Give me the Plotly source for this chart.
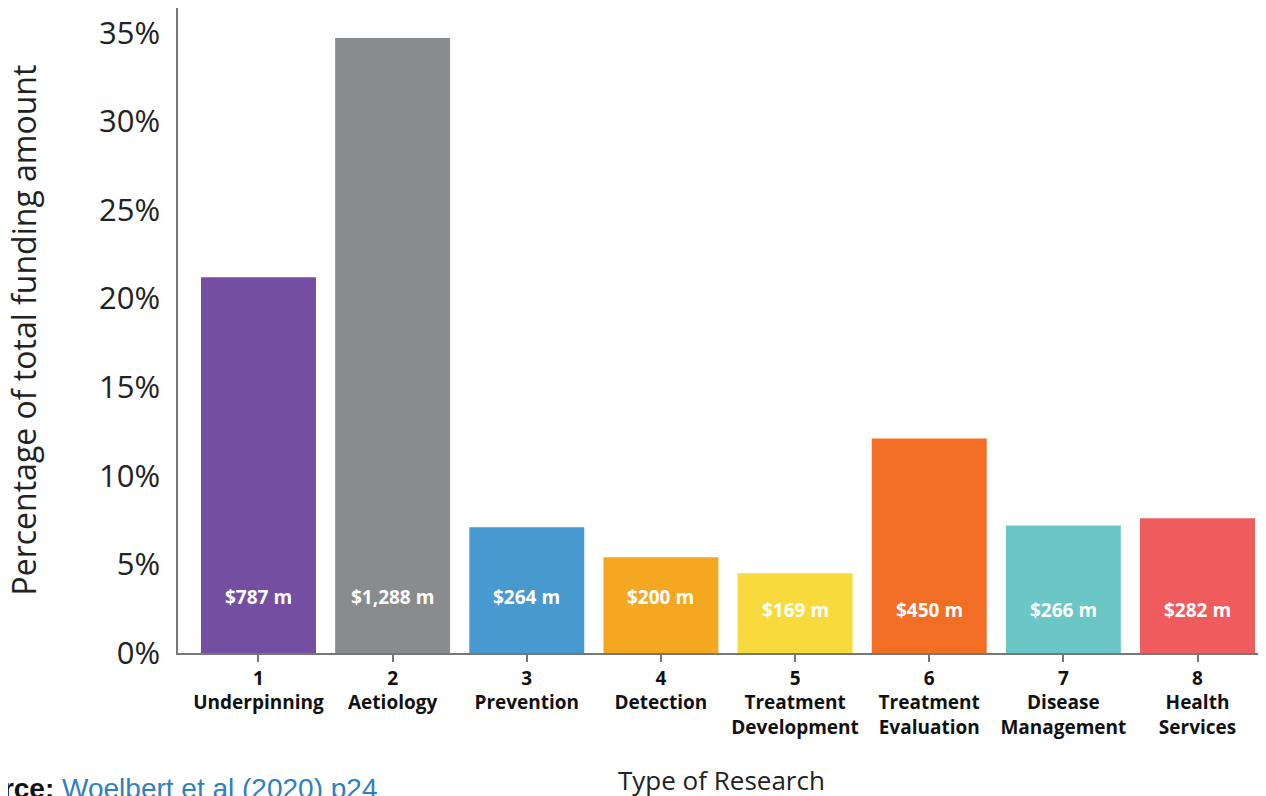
import plotly.graph_objects as go

categories = ["1<br>Underpinning", "2<br>Aetiology", "3<br>Prevention", "4<br>Detection",
              "5<br>Treatment<br>Development", "6<br>Treatment<br>Evaluation",
              "7<br>Disease<br>Management", "8<br>Health<br>Services"]
share_pct = [21.2, 34.7, 7.1, 5.4, 4.5, 12.1, 7.2, 7.6]
funding_labels = ["$787 m", "$1,288 m", "$264 m", "$200 m", "$169 m", "$450 m", "$266 m", "$282 m"]
colors = ["#744EA0", "#8A8B8D", "#4799CF", "#F4A822", "#F8DA3C", "#F26E25", "#6AC7C6", "#F05B5E"]
label_heights = [3.15, 3.15, 3.15, 3.15, 2.4, 2.4, 2.4, 2.4]
y_ticks = [0, 5, 10, 15, 20, 25, 30, 35]
y_ticklabels = [f"{v}%" for v in y_ticks]

xs = list(range(1, len(categories) + 1))
FONT = "Open Sans"

fig = go.Figure()
fig.add_trace(go.Bar(x=xs, y=share_pct, marker=dict(color=colors, line=dict(width=0)),
                     width=0.857, hoverinfo="skip"))

for x, h, t in zip(xs, label_heights, funding_labels):
    fig.add_annotation(x=x, y=h, text=f"<b>{t}</b>", showarrow=False,
                       font=dict(family=FONT, size=19, color="white"),
                       xanchor="center", yanchor="middle")

fig.add_annotation(xref="paper", yref="paper", x=-0.1435, y=0.5, textangle=-90,
                   text="Percentage of total funding amount", showarrow=False,
                   font=dict(family=FONT, size=32, color="#222222"),
                   xanchor="center", yanchor="middle")
fig.add_annotation(xref="paper", yref="paper", x=0.5037, y=-0.197,
                   text="Type of Research", showarrow=False,
                   font=dict(family=FONT, size=26, color="#222222"),
                   xanchor="center", yanchor="middle")
fig.add_annotation(xref="paper", yref="paper", x=-0.213, y=-0.21,
                   text="<b>Source:</b> <span style='color:#2F7FC1'>Woelbert et al (2020) p24</span>",
                   showarrow=False, font=dict(family="Liberation Sans", size=28, color="#111111"),
                   xanchor="left", yanchor="middle")

fig.update_layout(
    width=1266, height=796,
    margin=dict(l=170, r=16, t=0, b=151),
    plot_bgcolor="white", paper_bgcolor="white",
    showlegend=False,
    xaxis=dict(tickmode="array", tickvals=xs, ticktext=[f"<b>{c}</b>" for c in categories],
               range=[0.4, 8.451], showline=True, linecolor="#777777", linewidth=1.5,
               ticks="outside", ticklen=7, tickcolor="#777777", tickwidth=1.5,
               tickfont=dict(family=FONT, size=19, color="#111111"),
               showgrid=False, zeroline=False, fixedrange=True),
    yaxis=dict(range=[0, 36.4], tickmode="array", tickvals=y_ticks, ticktext=y_ticklabels,
               showline=True, linecolor="#777777", linewidth=1.5, ticks="",
               ticklabelstandoff=10,
               tickfont=dict(family=FONT, size=31, color="#222222"),
               showgrid=False, zeroline=False, fixedrange=True),
)

fig.write_html("out.html")
